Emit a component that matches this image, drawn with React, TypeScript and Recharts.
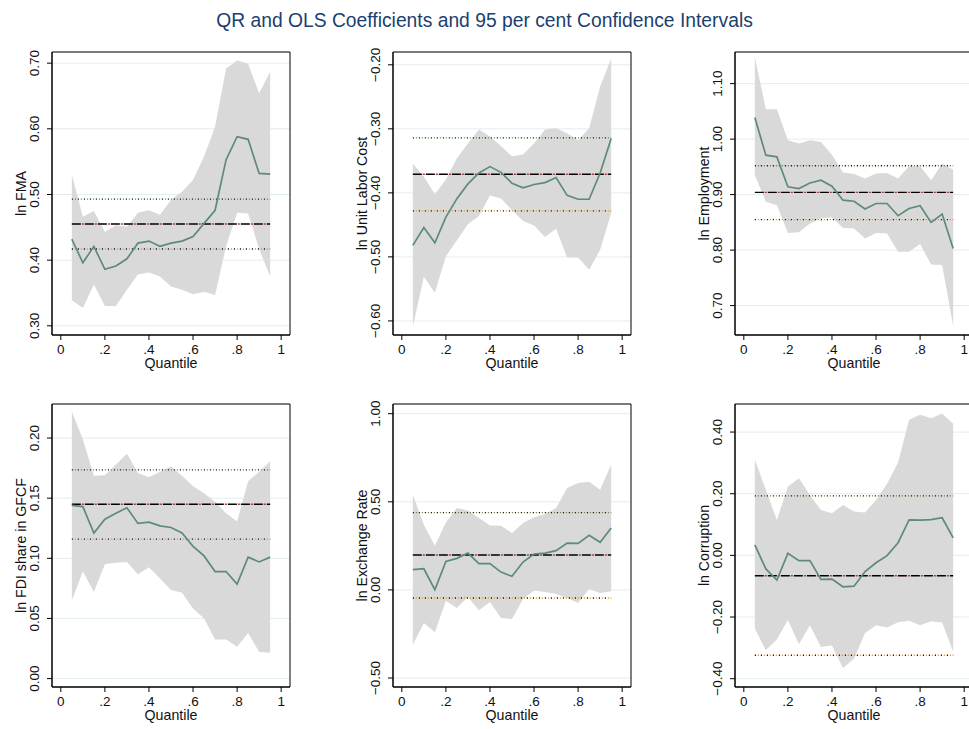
import React from "react";
import { ComposedChart, Area, Line, XAxis, YAxis, CartesianGrid, ReferenceArea } from "recharts";

const QUANTILES = [0.05, 0.1, 0.15, 0.2, 0.25, 0.3, 0.35, 0.4, 0.45, 0.5, 0.55, 0.6, 0.65, 0.7, 0.75, 0.8, 0.85, 0.9, 0.95];
const X_TICKS = [0, 0.2, 0.4, 0.6, 0.8, 1];
const X_TICK_LABELS = ["0", ".2", ".4", ".6", ".8", "1"];

// ln FMA
const fmaQR = [0.432, 0.396, 0.421, 0.386, 0.391, 0.402, 0.426, 0.429, 0.421, 0.426, 0.429, 0.436, 0.456, 0.476, 0.553, 0.588, 0.584, 0.532, 0.531];
const fmaHi = [0.530, 0.466, 0.475, 0.443, 0.453, 0.451, 0.472, 0.476, 0.469, 0.492, 0.504, 0.522, 0.558, 0.603, 0.692, 0.704, 0.699, 0.654, 0.687];
const fmaLo = [0.339, 0.327, 0.363, 0.330, 0.330, 0.355, 0.378, 0.381, 0.375, 0.360, 0.355, 0.348, 0.352, 0.347, 0.421, 0.472, 0.471, 0.417, 0.375];
const fmaOLS = [0.455, 0.417, 0.493];
const fmaTicks = [0.3, 0.4, 0.5, 0.6, 0.7];
const fmaTickLabels = ["0.30", "0.40", "0.50", "0.60", "0.70"];

// ln Unit Labor Cost
const ulcQR = [-0.482, -0.454, -0.478, -0.438, -0.409, -0.386, -0.369, -0.359, -0.368, -0.385, -0.392, -0.387, -0.384, -0.376, -0.404, -0.410, -0.410, -0.369, -0.315];
const ulcHi = [-0.354, -0.375, -0.402, -0.379, -0.346, -0.323, -0.301, -0.312, -0.327, -0.343, -0.340, -0.323, -0.301, -0.299, -0.307, -0.318, -0.299, -0.234, -0.190];
const ulcLo = [-0.609, -0.531, -0.556, -0.499, -0.474, -0.449, -0.436, -0.404, -0.409, -0.427, -0.444, -0.451, -0.469, -0.456, -0.501, -0.501, -0.520, -0.489, -0.432];
const ulcOLS = [-0.371, -0.428, -0.314];
const ulcTicks = [-0.6, -0.5, -0.4, -0.3, -0.2];
const ulcTickLabels = ["\u22120.60", "\u22120.50", "\u22120.40", "\u22120.30", "\u22120.20"];

// ln Employment
const empQR = [1.039, 0.971, 0.968, 0.914, 0.911, 0.921, 0.926, 0.915, 0.890, 0.888, 0.874, 0.884, 0.884, 0.862, 0.875, 0.880, 0.850, 0.865, 0.803];
const empHi = [1.148, 1.054, 1.054, 0.998, 0.992, 0.998, 0.995, 0.972, 0.940, 0.937, 0.929, 0.938, 0.939, 0.929, 0.951, 0.951, 0.926, 0.956, 0.945];
const empLo = [0.935, 0.887, 0.881, 0.831, 0.832, 0.848, 0.857, 0.859, 0.840, 0.839, 0.821, 0.831, 0.830, 0.797, 0.797, 0.811, 0.774, 0.773, 0.663];
const empOLS = [0.904, 0.855, 0.952];
const empTicks = [0.7, 0.8, 0.9, 1.0, 1.1];
const empTickLabels = ["0.70", "0.80", "0.90", "1.00", "1.10"];

// ln FDI share in GFCF
const fdiQR = [0.144, 0.143, 0.121, 0.1325, 0.1375, 0.142, 0.129, 0.130, 0.127, 0.1256, 0.121, 0.110, 0.102, 0.089, 0.089, 0.0786, 0.101, 0.097, 0.101];
const fdiHi = [0.222, 0.199, 0.1686, 0.169, 0.178, 0.187, 0.171, 0.1675, 0.172, 0.1764, 0.1686, 0.160, 0.154, 0.147, 0.1375, 0.1306, 0.164, 0.172, 0.1806];
const fdiLo = [0.065, 0.089, 0.072, 0.095, 0.0964, 0.097, 0.0867, 0.0925, 0.0833, 0.0736, 0.0714, 0.0583, 0.050, 0.0325, 0.0325, 0.0264, 0.038, 0.0222, 0.0214];
const fdiOLS = [0.145, 0.116, 0.1736];
const fdiTicks = [0, 0.05, 0.1, 0.15, 0.2];
const fdiTickLabels = ["0.00", "0.05", "0.10", "0.15", "0.20"];

// ln Exchange Rate
const exrQR = [0.115, 0.120, 0.001, 0.162, 0.179, 0.209, 0.149, 0.149, 0.101, 0.077, 0.158, 0.204, 0.209, 0.223, 0.266, 0.264, 0.310, 0.270, 0.351];
const exrHi = [0.540, 0.370, 0.251, 0.383, 0.465, 0.451, 0.408, 0.366, 0.364, 0.323, 0.380, 0.412, 0.431, 0.465, 0.578, 0.607, 0.614, 0.569, 0.711];
const exrLo = [-0.311, -0.188, -0.241, -0.061, -0.103, -0.040, -0.116, -0.069, -0.160, -0.165, -0.052, -0.003, -0.012, -0.023, -0.046, -0.074, 0.005, -0.018, -0.008];
const exrOLS = [0.198, -0.046, 0.438];
const exrTicks = [-0.5, 0, 0.5, 1.0];
const exrTickLabels = ["\u22120.50", "0.00", "0.50", "1.00"];

// ln Corruption
const corQR = [0.034, -0.044, -0.080, 0.0065, -0.017, -0.017, -0.078, -0.077, -0.102, -0.100, -0.053, -0.024, -0.001, 0.041, 0.115, 0.114, 0.116, 0.122, 0.057];
const corHi = [0.310, 0.2125, 0.115, 0.223, 0.250, 0.196, 0.147, 0.137, 0.163, 0.142, 0.139, 0.180, 0.232, 0.301, 0.440, 0.456, 0.445, 0.460, 0.427];
const corLo = [-0.237, -0.308, -0.273, -0.210, -0.288, -0.227, -0.297, -0.292, -0.365, -0.335, -0.252, -0.227, -0.234, -0.217, -0.212, -0.227, -0.214, -0.218, -0.313];
const corOLS = [-0.066, -0.324, 0.193];
const corTicks = [-0.4, -0.2, 0, 0.2, 0.4];
const corTickLabels = ["\u22120.40", "\u22120.20", "0.00", "0.20", "0.40"];

const TITLE = "QR and OLS Coefficients and 95 per cent Confidence Intervals";
const X_TITLE = "Quantile";

const PANELS = [
  { title: "ln FMA", qr: fmaQR, hi: fmaHi, lo: fmaLo, ols: fmaOLS, ticks: fmaTicks, labels: fmaTickLabels, domain: [0.286, 0.717] },
  { title: "ln Unit Labor Cost", qr: ulcQR, hi: ulcHi, lo: ulcLo, ols: ulcOLS, ticks: ulcTicks, labels: ulcTickLabels, domain: [-0.622, -0.18] },
  { title: "ln Employment", qr: empQR, hi: empHi, lo: empLo, ols: empOLS, ticks: empTicks, labels: empTickLabels, domain: [0.647, 1.157] },
  { title: "ln FDI share in GFCF", qr: fdiQR, hi: fdiHi, lo: fdiLo, ols: fdiOLS, ticks: fdiTicks, labels: fdiTickLabels, domain: [-0.007, 0.2283] },
  { title: "ln Exchange Rate", qr: exrQR, hi: exrHi, lo: exrLo, ols: exrOLS, ticks: exrTicks, labels: exrTickLabels, domain: [-0.551, 1.055] },
  { title: "ln Corruption", qr: corQR, hi: corHi, lo: corLo, ols: corOLS, ticks: corTicks, labels: corTickLabels, domain: [-0.427, 0.491] },
];

const COL_LEFT = [52, 393, 735];
const ROW_TOP = [52, 404];
const W_PLOT = 238;
const H_PLOT = 283;
const YW = 52;
const TOPM = 24;
const RIGHTM = 2;
const XH = 42;
const X_DOMAIN = [-0.04, 1.04];
const FONT = "'Liberation Sans', Arial, Helvetica, sans-serif";
const TXT = "#111";
const TICK_FS = 13.5;
const TITLE_FS = 14.2;

function XTick(props: any) {
  const { x, payload } = props;
  const i = X_TICKS.indexOf(payload.value);
  return (
    <text x={x} y={TOPM + H_PLOT + 18.8} textAnchor="middle" fontSize={TICK_FS} fill={TXT} fontFamily={FONT}>
      {X_TICK_LABELS[i] ?? String(payload.value)}
    </text>
  );
}

function makeYTick(ticks: number[], labels: string[]) {
  return function YTick(props: any) {
    const { y, payload } = props;
    const i = ticks.findIndex((t) => Math.abs(t - payload.value) < 1e-9);
    const bx = YW - 13.2;
    return (
      <text transform={`translate(${bx},${y}) rotate(-90)`} x={0} y={0} textAnchor="middle" fontSize={TICK_FS} fill={TXT} fontFamily={FONT}>
        {i >= 0 ? labels[i] : String(payload.value)}
      </text>
    );
  };
}

function Panel({ spec, left, top }: any) {
  const data = QUANTILES.map((q, i) => ({
    q,
    band: [spec.lo[i], spec.hi[i]],
    qr: spec.qr[i],
    ols: spec.ols[0],
    olsLo: spec.ols[1],
    olsHi: spec.ols[2],
  }));
  const YTick = makeYTick(spec.ticks, spec.labels);
  return (
    <div style={{ position: "absolute", left: left - YW, top: top - TOPM }}>
      <ComposedChart
        width={YW + W_PLOT + RIGHTM}
        height={TOPM + H_PLOT + XH}
        data={data}
        margin={{ top: TOPM, right: RIGHTM, left: 0, bottom: 0 }}
      >
        <CartesianGrid vertical={false} stroke="#e2edf0" strokeWidth={1} />
        <XAxis
          dataKey="q"
          type="number"
          domain={X_DOMAIN}
          ticks={X_TICKS}
          allowDataOverflow
          interval={0}
          height={XH}
          tickSize={5}
          stroke="#000"
          tick={<XTick />}
        />
        <YAxis
          type="number"
          domain={spec.domain}
          ticks={spec.ticks}
          allowDataOverflow
          interval={0}
          width={YW}
          tickSize={5}
          stroke="#000"
          tick={<YTick />}
        />
        <Area dataKey="band" type="linear" stroke="none" fill="#d9d9d9" fillOpacity={1} isAnimationActive={false} dot={false} activeDot={false} />
        <Line dataKey="olsHi" type="linear" stroke="#1a1a1a" strokeWidth={1.3} strokeDasharray="1.2 4.8" dot={false} activeDot={false} isAnimationActive={false} />
        <Line dataKey="olsHi" type="linear" stroke="#6f8f4a" strokeWidth={1.3} strokeDasharray="0 3 1.2 1.8" dot={false} activeDot={false} isAnimationActive={false} />
        <Line dataKey="olsLo" type="linear" stroke="#1a1a1a" strokeWidth={1.3} strokeDasharray="1.2 4.8" dot={false} activeDot={false} isAnimationActive={false} />
        <Line dataKey="olsLo" type="linear" stroke="#e89a2c" strokeWidth={1.3} strokeDasharray="0 3 1.2 1.8" dot={false} activeDot={false} isAnimationActive={false} />
        <Line dataKey="ols" type="linear" stroke="#000" strokeWidth={1.4} strokeDasharray="9 4" dot={false} activeDot={false} isAnimationActive={false} />
        <Line dataKey="ols" type="linear" stroke="#b03a3a" strokeWidth={1.4} strokeDasharray="0 10 2 1" dot={false} activeDot={false} isAnimationActive={false} />
        <Line dataKey="qr" type="linear" stroke="#5e8b78" strokeWidth={1.7} dot={false} activeDot={false} isAnimationActive={false} />
        <ReferenceArea
          x1={X_DOMAIN[0]}
          x2={X_DOMAIN[1]}
          y1={spec.domain[0]}
          y2={spec.domain[1]}
          fill="none"
          fillOpacity={0}
          stroke="#000"
          strokeWidth={1}
          ifOverflow="visible"
        />
      </ComposedChart>
    </div>
  );
}

export default function App() {
  return (
    <div
      style={{
        position: "absolute",
        left: 0,
        top: 0,
        width: 969,
        height: 729,
        overflow: "hidden",
        background: "#fff",
        fontFamily: FONT,
      }}
    >
      {PANELS.map((spec, idx) => {
        const col = idx % 3;
        const row = Math.floor(idx / 3);
        return <Panel key={idx} spec={spec} left={COL_LEFT[col]} top={ROW_TOP[row]} />;
      })}
      <svg width={969} height={729} style={{ position: "absolute", left: 0, top: 0, pointerEvents: "none" }}>
        <text x={484.5} y={27} textAnchor="middle" fontSize={19.3} fill="#1a3f6f" fontFamily={FONT}>
          {TITLE}
        </text>
        {PANELS.map((spec, idx) => {
          const col = idx % 3;
          const row = Math.floor(idx / 3);
          const pl = COL_LEFT[col];
          const pt = ROW_TOP[row];
          const cx = pl + W_PLOT / 2;
          const cy = pt + H_PLOT / 2;
          const bx = pl - 26;
          return (
            <g key={idx}>
              <text transform={`translate(${bx},${cy}) rotate(-90)`} x={0} y={0} textAnchor="middle" fontSize={TITLE_FS} fill={TXT} fontFamily={FONT}>
                {spec.title}
              </text>
              <text x={cx} y={pt + H_PLOT + 33} textAnchor="middle" fontSize={TITLE_FS} fill={TXT} fontFamily={FONT}>
                {X_TITLE}
              </text>
            </g>
          );
        })}
      </svg>
    </div>
  );
}
